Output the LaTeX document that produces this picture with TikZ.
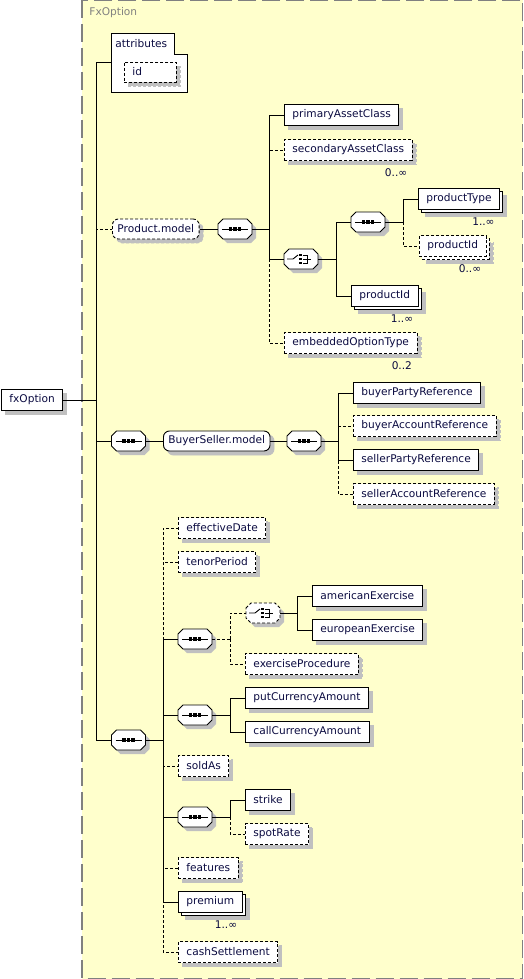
\documentclass[tikz,border=0pt]{standalone}
\usepackage{fontspec}
\setmainfont{DejaVu Sans}
\usetikzlibrary{shadows}
\definecolor{xsdYellow}{HTML}{FFFFCC}
\definecolor{xsdGray}{HTML}{808080}
\definecolor{xsdShadow}{HTML}{C0C0C0}
\definecolor{xsdText}{HTML}{0A0A40}
\newcommand\octpath{(-17,-5) -- (-12,-10) -- (12,-10) -- (17,-5) -- (17,5) -- (12,10) -- (-12,10) -- (-17,5) -- cycle}

\begin{document}
\begin{tikzpicture}[x=1pt, y=-1pt, line width=0.9pt, font=\fontsize{10.6}{12}\selectfont, panel/.style={fill=xsdYellow, draw=xsdGray, line width=1.4pt, dash pattern=on 18pt off 6pt}, box/.style={rectangle, draw, fill=white, anchor=west, minimum height=21pt, inner xsep=8pt, inner ysep=0pt, text=xsdText}, elem/.style={box, general shadow={fill=xsdShadow, draw=xsdShadow, shadow xshift=4pt, shadow yshift=-4pt}}, multi/.style={box, general shadow={fill=xsdShadow, draw=xsdShadow, shadow xshift=7pt, shadow yshift=-7pt}, copy shadow={shadow xshift=3pt, shadow yshift=-3pt}}, opt/.style={dash pattern=on 3pt off 2pt}, model/.style={box, rounded corners=6pt, minimum height=20pt, inner xsep=5pt, general shadow={fill=xsdShadow, draw=xsdShadow, shadow xshift=4pt, shadow yshift=-4pt}}, comp/.style={rectangle, minimum width=34pt, minimum height=20pt, inner sep=0pt}, mult/.style={anchor=north east, inner sep=0pt, text=xsdText}]

\useasboundingbox (0,0) rectangle (523,979);
\path[panel] (82,0) rectangle (522.5,978.5);
\node[anchor=west, inner sep=0pt, text=xsdGray] (title) at (89,13) {FxOption};

% root element and attributes
\node[elem] (fxOption) at (1,400) {fxOption};
\draw[fill=white] (111,33) -- (174,33) -- (174,54) -- (187,54) -- (187,92) -- (111,92) -- cycle;
\node[anchor=west, inner sep=0pt, text=xsdText] (attr) at (115,44) {attributes};
\node[elem, opt, minimum height=20pt, text width=36pt, align=left] (id) at (124,72) {id};
\coordinate (attrIn) at (111,62);

% Product.model
\node[model, opt] (prodModel) at (112,229) {Product.model};
\node[comp] (seqP) at (235,229) {};
\node[elem] (prim) at (284,115) {primaryAssetClass};
\node[elem, opt] (sec) at (284,150) {secondaryAssetClass};
\node[comp] (choiceP) at (301,259) {};
\node[comp] (seqPT) at (368,222) {};
\node[multi] (prodType) at (418,199) {productType};
\node[multi, opt] (prodIdOpt) at (419,246) {productId};
\node[multi] (prodId) at (351,296) {productId};
\node[elem, opt] (embOpt) at (284,343) {embeddedOptionType};

% BuyerSeller.model
\node[comp] (seqRoot1) at (128.5,441) {};
\node[model] (bsModel) at (163,441) {BuyerSeller.model};
\node[comp] (seqBS) at (304,441) {};
\node[elem] (buyerParty) at (353,393) {buyerPartyReference};
\node[elem, opt] (buyerAcct) at (353,426) {buyerAccountReference};
\node[elem] (sellerParty) at (353,460) {sellerPartyReference};
\node[elem, opt] (sellerAcct) at (353,494) {sellerAccountReference};

% option details
\node[comp] (seqRoot2) at (128.5,740) {};
\node[elem, opt] (effDate) at (178,528) {effectiveDate};
\node[elem, opt] (tenor) at (178,562) {tenorPeriod};
\node[comp] (seqEx) at (195,639) {};
\node[comp] (choiceEx) at (263,613) {};
\node[elem] (american) at (312,596) {americanExercise};
\node[elem] (european) at (312,630) {europeanExercise};
\node[elem, opt] (exProc) at (245,664) {exerciseProcedure};
\node[comp] (seqCur) at (195,715) {};
\node[elem] (putAmt) at (245,698) {putCurrencyAmount};
\node[elem] (callAmt) at (245,732) {callCurrencyAmount};
\node[elem, opt] (soldAs) at (178,766) {soldAs};
\node[comp] (seqStr) at (195,817) {};
\node[elem] (strike) at (245,800) {strike};
\node[elem, opt] (spotRate) at (245,834) {spotRate};
\node[elem, opt] (features) at (178,868) {features};
\node[multi] (premium) at (178,902) {premium};
\node[elem, opt] (cashSettle) at (178,952) {cashSettlement};

% occurrences
\node[mult] (mSec) at ([xshift=-5pt, yshift=-7pt]sec.south east) {0..∞};
\node[mult] (mProdType) at ([xshift=-5pt, yshift=-7pt]prodType.south east) {1..∞};
\node[mult] (mProdIdOpt) at ([xshift=-5pt, yshift=-7pt]prodIdOpt.south east) {0..∞};
\node[mult] (mProdId) at ([xshift=-5pt, yshift=-7pt]prodId.south east) {1..∞};
\node[mult] (mEmbOpt) at ([xshift=-5pt, yshift=-7pt]embOpt.south east) {0..2};
\node[mult] (mPremium) at ([xshift=-5pt, yshift=-7pt]premium.south east) {1..∞};

% sequence and choice symbols
\foreach \n/\s in {seqP/solid, seqPT/solid, seqRoot1/solid, seqBS/solid, seqRoot2/solid, seqEx/solid, seqCur/solid, seqStr/solid, choiceP/solid, choiceEx/opt}{
  \begin{scope}[shift={(\n.center)}]
    \fill[xsdShadow, shift={(4,4)}] \octpath;
    \draw[fill=white, \s] \octpath;
  \end{scope}
}
\foreach \n in {seqP, seqPT, seqRoot1, seqBS, seqRoot2, seqEx, seqCur, seqStr}{
  \begin{scope}[shift={(\n.center)}]
    \draw (-13,0) -- (13,0);
    \foreach \dx in {-4.5,0,4.5} \fill (\dx-1.7,-1.7) rectangle (\dx+1.7,1.7);
  \end{scope}
}
\foreach \n in {choiceP, choiceEx}{
  \begin{scope}[shift={(\n.center)}]
    \draw (-14,0) -- (-8,0) -- (-3,-4);
    \foreach \dy in {-4,0,4} \fill (-1.8,\dy-1.4) rectangle (1,\dy+1.4);
    \draw (2,-4) -- (6,-4) -- (6,4) -- (2,4);
    \draw (2,0) -- (10,0);
  \end{scope}
}

% junctions
\coordinate (jRoot) at (96,400);
\coordinate (jP) at (269,229);
\coordinate (jC) at (336,259);
\coordinate (jPT) at (403,222);
\coordinate (jBS) at (338,441);
\coordinate (jOpt) at (163,740);
\coordinate (jEx) at (230,639);
\coordinate (jExC) at (297,613);
\coordinate (jCur) at (230,715);
\coordinate (jStr) at (230,817);

\foreach \from/\to in {fxOption/jRoot, prodModel/seqP, seqP/jP, choiceP/jC, seqPT/jPT, seqRoot1/bsModel, bsModel/seqBS, seqBS/jBS, seqRoot2/jOpt, seqCur/jCur, seqStr/jStr, choiceEx/jExC}
    \draw (\from.east) -- (\to);
\draw (jRoot) |- (attrIn);
\foreach \from/\to in {jRoot/seqRoot1, jRoot/seqRoot2, jP/prim, jP/choiceP, jC/seqPT, jC/prodId, jPT/prodType, jBS/buyerParty, jBS/sellerParty, jOpt/seqEx, jOpt/seqCur, jOpt/seqStr, jOpt/premium, jExC/american, jExC/european, jCur/putAmt, jCur/callAmt, jStr/strike}
    \draw (\from) |- (\to.west);
\draw[opt] (seqEx.east) -- (jEx);
\foreach \from/\to in {jRoot/prodModel, jP/sec, jP/embOpt, jPT/prodIdOpt, jBS/buyerAcct, jBS/sellerAcct, jOpt/effDate, jOpt/tenor, jOpt/soldAs, jOpt/features, jOpt/cashSettle, jEx/choiceEx, jEx/exProc, jStr/spotRate}
    \draw[opt] (\from) |- (\to.west);
\end{tikzpicture}
\end{document}
